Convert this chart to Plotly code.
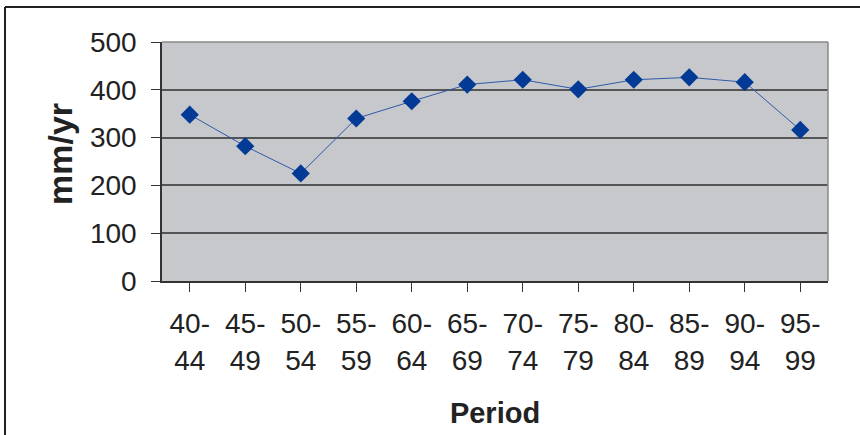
import plotly.graph_objects as go

periods = ["40-44", "45-49", "50-54", "55-59", "60-64", "65-69",
           "70-74", "75-79", "80-84", "85-89", "90-94", "95-99"]
tick_labels = ["40-<br>44", "45-<br>49", "50-<br>54", "55-<br>59", "60-<br>64", "65-<br>69",
               "70-<br>74", "75-<br>79", "80-<br>84", "85-<br>89", "90-<br>94", "95-<br>99"]
rate_mm_yr = [348, 282, 225, 340, 376, 411, 421, 401, 421, 426, 416, 316]
y_ticks = [0, 100, 200, 300, 400, 500]

FONT = "Liberation Sans, Arial, sans-serif"
TEXT = "#222222"

# plot area in pixels, used to place the frame and the y title in paper units
L, R, T, B, W, H = 162, 32, 42, 154, 860, 435
PW, PH = W - L - R, H - T - B


def px_x(x):
    return (x - L) / PW


def px_y(y):
    return (H - B - y) / PH


fig = go.Figure()
fig.add_trace(go.Scatter(
    x=periods, y=rate_mm_yr, mode="lines+markers",
    line=dict(color="#2e5aa8", width=1),
    marker=dict(symbol="diamond", size=14, color="#023a96",
                line=dict(color="#023a96", width=0)),
    showlegend=False, cliponaxis=False,
))

fig.update_layout(
    width=W, height=H,
    margin=dict(l=L, r=R, t=T, b=B),
    paper_bgcolor="white",
    plot_bgcolor="#c7c8cc",
    font=dict(family=FONT, color=TEXT),
    xaxis=dict(
        type="category", categoryorder="array", categoryarray=periods,
        tickmode="array", tickvals=periods, ticktext=tick_labels,
        tickfont=dict(size=28, family=FONT, color=TEXT),
        ticks="outside", ticklen=9, tickcolor="#333333", tickwidth=1,
        showgrid=False, showline=True, linecolor="#333333", linewidth=1.5,
        zeroline=False, range=[-0.5, 11.5],
        ticklabelstandoff=8,
        title=dict(text="<b>Period</b>", font=dict(size=29, family=FONT, color=TEXT),
                   standoff=28),
    ),
    yaxis=dict(
        range=[0, 500], tickmode="array", tickvals=y_ticks,
        tickfont=dict(size=28, family=FONT, color=TEXT),
        ticks="outside", ticklen=9, tickcolor="#333333", tickwidth=1,
        ticklabelstandoff=9,
        showgrid=True, gridcolor="#555555", gridwidth=1.5,
        showline=True, linecolor="#333333", linewidth=1.5,
        zeroline=False,
    ),
    annotations=[
        dict(text="<b>mm/yr</b>", textangle=-90, showarrow=False,
             xref="paper", yref="paper", x=px_x(60), y=px_y(154),
             xanchor="center", yanchor="middle",
             font=dict(size=34, family=FONT, color=TEXT)),
    ],
    shapes=[
        # plot area outline on the top and right
        dict(type="line", xref="paper", yref="paper", x0=0, x1=1, y0=1, y1=1,
             line=dict(color="#888888", width=1.5)),
        dict(type="line", xref="paper", yref="paper", x0=1, x1=1, y0=0, y1=1,
             line=dict(color="#888888", width=1.5)),
        # outer chart frame
        dict(type="line", xref="paper", yref="paper",
             x0=px_x(5), x1=px_x(W), y0=px_y(7), y1=px_y(7),
             line=dict(color="#222222", width=2)),
        dict(type="line", xref="paper", yref="paper",
             x0=px_x(5), x1=px_x(5), y0=px_y(7), y1=px_y(H),
             line=dict(color="#222222", width=2)),
    ],
)

fig.write_html("out.html")
